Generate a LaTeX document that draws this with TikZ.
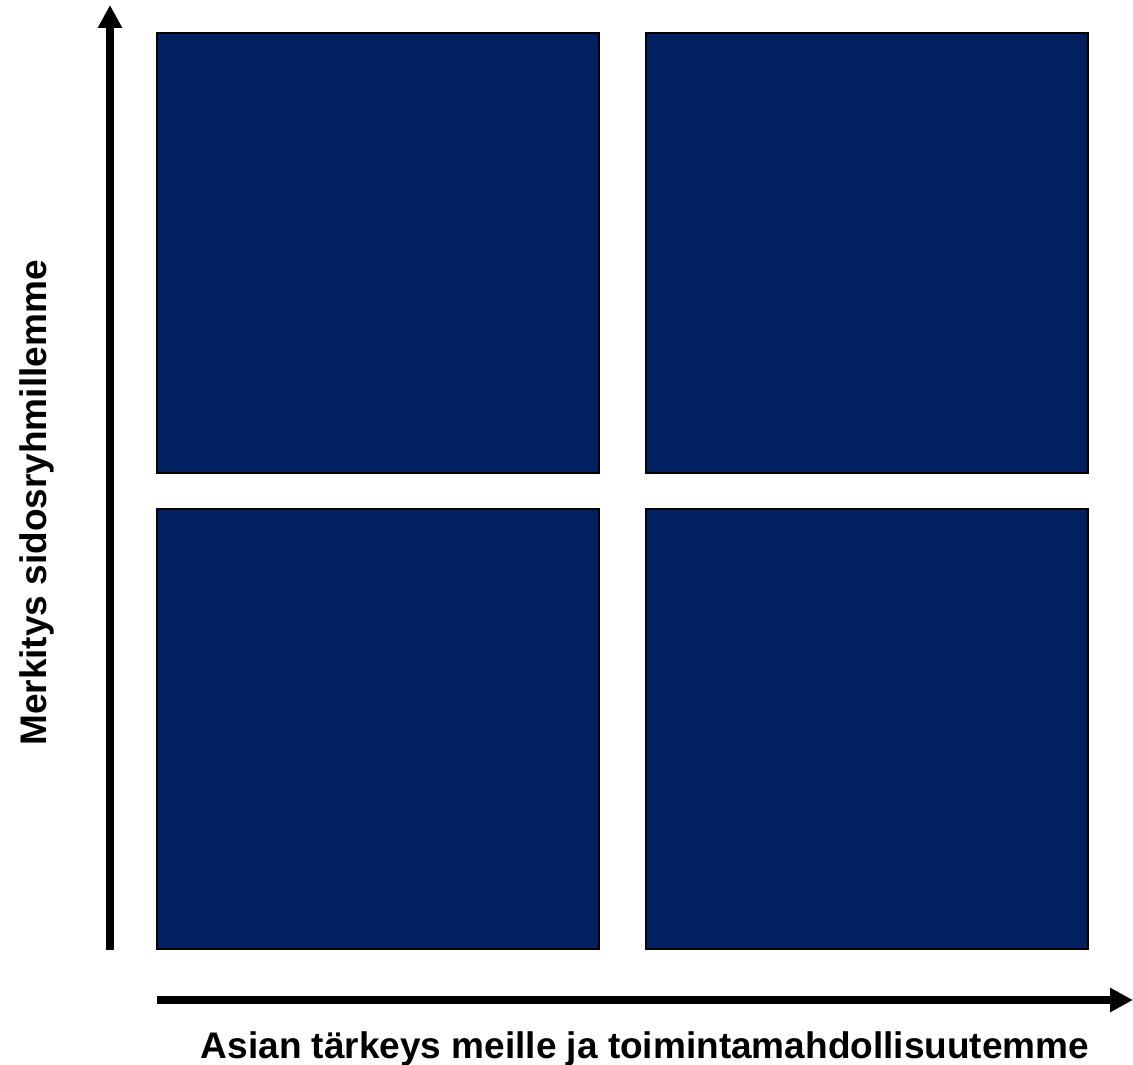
\documentclass[tikz,border=0pt]{standalone}
\usepackage{fontspec}
\setmainfont{Liberation Sans}
\usetikzlibrary{arrows.meta, positioning}
\definecolor{quad_colour}{RGB}{0, 32, 96}

\begin{document}
\begin{tikzpicture}[
    x=1pt, y=-1pt,
    every node/.style={font=\fontsize{37}{44}\selectfont\bfseries},
    quad/.style={draw=black, line width=2pt, fill=quad_colour,
                minimum width=442pt, minimum height=440pt, inner sep=0pt},
    axis/.style={-{Triangle[width=23pt, length=23pt]}, line width=8pt, black},
]
\useasboundingbox (0,0) rectangle (1133,1065);
\node[quad] (tl) at (378,   253) {};
\node[quad] (tr) at (866.5, 253) {};
\node[quad] (bl) at (378,   729) {};
\node[quad] (br) at (866.5, 729) {};

\coordinate (yorig) at (110, 950);
\coordinate (ytip)  at (110, 5);
\coordinate (xorig) at (157, 1000);
\coordinate (xtip)  at (1133, 1000);

\draw[axis] (yorig) -- (ytip);
\draw[axis] (xorig) -- (xtip);

\node[anchor=base] (xlabel) at (645, 1058) {Asian tärkeys meille ja toimintamahdollisuutemme};
\node[anchor=base, rotate=90] (ylabel) at (46, 503) {Merkitys sidosryhmillemme};
\end{tikzpicture}
\end{document}
